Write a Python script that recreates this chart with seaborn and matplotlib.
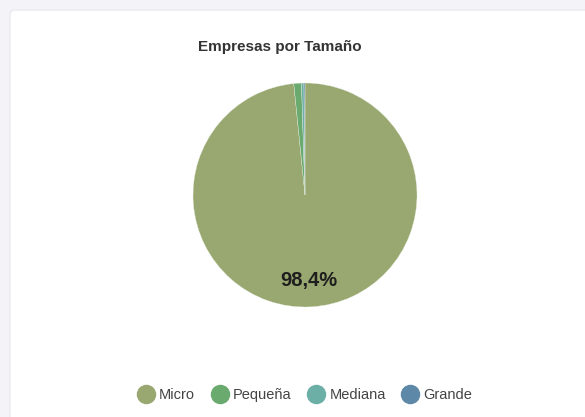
import matplotlib
matplotlib.use("Agg")
import matplotlib.pyplot as plt
from matplotlib.patches import FancyBboxPatch
from matplotlib.lines import Line2D
import seaborn as sns

# Company size distribution
categories = ["Micro", "Pequeña", "Mediana", "Grande"]
shares = [98.4, 1.1, 0.35, 0.15]
colors = ["#98a870", "#6aaa6e", "#6cafa6", "#5d88a8"]
title = "Empresas por Tamaño"

sns.set_theme(style="white")
plt.rcParams["font.family"] = ["Liberation Sans", "DejaVu Sans"]

W, H = 585, 417
fig = plt.figure(figsize=(W / 100, H / 100), dpi=100)
fig.patch.set_facecolor("#f4f4f8")

# White card panel behind everything
card = FancyBboxPatch((10 / W, -0.05), 1.1, (H - 10) / H + 0.05,
                      boxstyle="round,pad=0,rounding_size=0.01",
                      transform=fig.transFigure, facecolor="white",
                      edgecolor="#e9e9f0", linewidth=1.0, zorder=-10)
fig.patches.append(card)

cx, cy, r = 305, 195, 112
ax = fig.add_axes([(cx - r) / W, (H - cy - r) / H, 2 * r / W, 2 * r / H])
ax.set_zorder(5)
ax.set_facecolor("none")

def pct_label(p):
    return f"{p:.1f}%".replace(".", ",") if p > 5 else ""

wedges, texts, autotexts = ax.pie(
    shares, colors=colors, startangle=90, counterclock=False,
    autopct=pct_label, pctdistance=0.76,
    wedgeprops=dict(edgecolor="#e8eee0", linewidth=0.25),
    textprops=dict(fontsize=14.5, fontweight="bold", color="#1e1e1e"))
ax.set_aspect("equal")
ax.set_xlim(-1, 1)
ax.set_ylim(-1, 1)
ax.set_axis_off()

fig.text(280 / W, 1 - 47 / H, title, ha="center", va="center",
         fontsize=11, fontweight="bold", color="#333333")

handles = [Line2D([0], [0], marker="o", linestyle="none", markersize=13,
                  markerfacecolor=c, markeredgecolor=c) for c in colors]
fig.legend(handles, categories, loc="center", bbox_to_anchor=(304 / W, 1 - 395 / H),
           ncol=4, frameon=False, fontsize=10.5, handletextpad=0.2,
           columnspacing=1.0, labelcolor="#444444", handlelength=1.4)

fig.savefig("out.png", dpi=100, facecolor=fig.get_facecolor())
